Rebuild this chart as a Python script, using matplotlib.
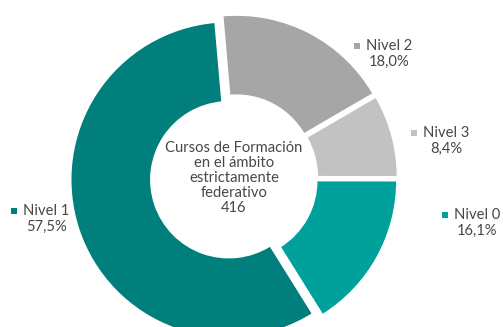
import matplotlib
matplotlib.use("Agg")
import matplotlib.pyplot as plt

# Training courses by level (share of 416 courses)
levels = ["Nivel 2", "Nivel 3", "Nivel 0", "Nivel 1"]
shares = [18.0, 8.4, 16.1, 57.5]
colors = ["#a6a6a6", "#c2c2c2", "#00a19b", "#007f7d"]
total_courses = 416
center_title = "Cursos de Formación\nen el ámbito\nestrictamente\nfederativo"

W, H = 503, 327
plt.rcParams["font.family"] = ["Lato", "DejaVu Sans"]
text_color = "#474747"
fs = 10.6

fig = plt.figure(figsize=(W / 100, H / 100), dpi=100)
ax = fig.add_axes([0, 0, 1, 1])

cx, cy = 234, H - 178
r_out, r_in = 158, 78
ax.pie(
    shares,
    colors=colors,
    startangle=95,
    counterclock=False,
    center=(cx, cy),
    radius=r_out,
    explode=[5.5] * len(shares),
    wedgeprops={"width": r_out - r_in, "edgecolor": "white", "linewidth": 1.0},
)
ax.set_xlim(0, W)
ax.set_ylim(0, H)
ax.set_aspect("equal")
ax.axis("off")

ax.text(cx, cy, f"{center_title}\n{total_courses}", ha="center", va="center",
        fontsize=fs, color=text_color, linespacing=1.1)

# label anchors: (left of marker, row of name) in pixel coords
label_pos = {
    "Nivel 2": (353, 46),
    "Nivel 3": (410, 133),
    "Nivel 0": (441, 215),
    "Nivel 1": (10, 211),
}
for name, val, col in zip(levels, shares, colors):
    px, py = label_pos[name]
    ax.scatter(px + 4, H - py, marker="s", s=24, color=col, linewidths=0)
    t = ax.text(px + 13, H - py, name, ha="left", va="center",
                fontsize=fs, color=text_color)
    fig.canvas.draw()
    bb = t.get_window_extent()
    mid = (bb.x0 + bb.x1) / 2
    pct = f"{val:.1f}%".replace(".", ",")
    ax.text(mid, H - py - 15.5, pct, ha="center", va="center",
            fontsize=fs, color=text_color)

fig.savefig("out.png", dpi=100)
